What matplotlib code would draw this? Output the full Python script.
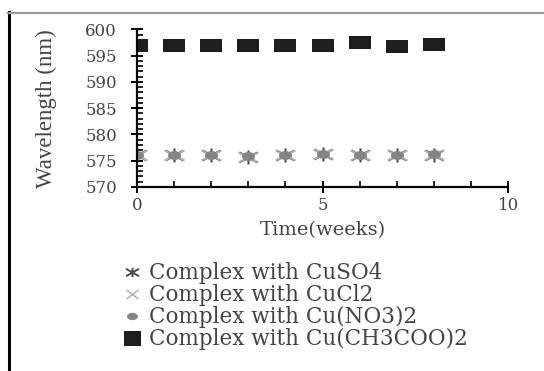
import matplotlib
matplotlib.use("Agg")
import matplotlib.pyplot as plt
from matplotlib.lines import Line2D
from matplotlib.path import Path
from matplotlib.transforms import Affine2D
from matplotlib.ticker import MultipleLocator

weeks = [0, 1, 2, 3, 4, 5, 6, 7, 8]
cuso4 = [576.0, 576.0, 576.0, 575.8, 576.0, 576.3, 576.0, 576.0, 576.1]
cucl2 = [576.0, 576.0, 576.0, 575.8, 576.0, 576.3, 576.0, 576.0, 576.1]
cuno3 = [576.0, 576.0, 576.0, 575.9, 576.0, 576.3, 576.0, 576.0, 576.2]
cuac = [597.0, 597.0, 597.0, 597.0, 597.0, 597.0, 597.5, 596.9, 597.2]
labels = ["Complex with CuSO4", "Complex with CuCl2",
          "Complex with Cu(NO3)2", "Complex with Cu(CH3COO)2"]

plt.rcParams['font.family'] = ['DejaVu Serif', 'DejaVu Sans']


def seg_path(segs):
    verts, codes = [], []
    for (a, b) in segs:
        verts += [a, b]
        codes += [Path.MOVETO, Path.LINETO]
    return Path(verts, codes)


def rect_path(w, h):
    return Path([(-w, -h), (w, -h), (w, h), (-w, h), (-w, -h)],
                [Path.MOVETO, Path.LINETO, Path.LINETO, Path.LINETO, Path.CLOSEPOLY])


def ellipse_path(w, h):
    return Affine2D().scale(w, h).transform_path(Path.unit_circle())


star_m = seg_path([((-9, -5), (9, 5)), ((-9, 5), (9, -5)), ((0, -7), (0, 7))])
x_m = seg_path([((-10, -5), (10, 5)), ((-10, 5), (10, -5))])
ell_m = ellipse_path(6.5, 4.5)
rect_m = rect_path(11, 6.5)

PT = 72 / 100.0

fig = plt.figure(figsize=(5.44, 3.71), dpi=100)
ax = fig.add_axes([0.252, 0.496, 0.682, 0.425])

h1, = ax.plot(weeks, cuso4, ls='none', marker=star_m, ms=18 * PT, mew=1.5,
              mfc='none', mec='#4a4a4a')
h2, = ax.plot(weeks, cucl2, ls='none', marker=x_m, ms=20 * PT, mew=1.4,
              mfc='none', mec='#b0b0b0')
h3, = ax.plot(weeks, cuno3, ls='none', marker=ell_m, ms=13 * PT, mew=0,
              color='#858585')
h4, = ax.plot(weeks, cuac, ls='none', marker=rect_m, ms=22 * PT, mew=0,
              color='#1e1e1e')

ax.set_xlim(0, 10)
ax.set_ylim(570, 600)
ax.xaxis.set_major_locator(MultipleLocator(5))
ax.xaxis.set_minor_locator(MultipleLocator(1))
ax.yaxis.set_major_locator(MultipleLocator(5))
ax.yaxis.set_minor_locator(MultipleLocator(1))
for s in ['top', 'right']:
    ax.spines[s].set_visible(False)
for s in ['left', 'bottom']:
    ax.spines[s].set_linewidth(1.6)
    ax.spines[s].set_color('black')
ax.tick_params(axis='both', which='major', direction='inout', length=9, width=1.4,
               labelsize=12, colors='black', labelcolor='#444444')
ax.tick_params(axis='both', which='minor', direction='in', length=4, width=1.2)
ax.tick_params(axis='y', which='major', pad=10)
ax.tick_params(axis='x', which='major', pad=3)

ax.set_xlabel("Time(weeks)", fontsize=14, color='#444444', labelpad=5)
ax.set_ylabel("Wavelength (nm)", fontsize=16.5, color='#444444', labelpad=20,
              family=['Liberation Serif', 'DejaVu Serif'])

# legend proxies (legend symbols are drawn smaller than plot markers)
p1 = Line2D([], [], ls='none', marker=seg_path([((-7, -4), (7, 4)), ((-7, 4), (7, -4)), ((0, -5), (0, 5))]),
            ms=13 * PT, mew=1.4, mfc='none', mec='#4a4a4a')
p2 = Line2D([], [], ls='none', marker=seg_path([((-6, -4.5), (6, 4.5)), ((-6, 4.5), (6, -4.5))]),
            ms=12 * PT, mew=1.1, mfc='none', mec='#b0b0b0')
p3 = Line2D([], [], ls='none', marker=ellipse_path(6, 4), ms=11 * PT, mew=0, color='#858585')
p4 = Line2D([], [], ls='none', marker=rect_path(8.5, 7.5), ms=17 * PT, mew=0, color='#1e1e1e')

leg = fig.legend([p1, p2, p3, p4], labels, loc='upper left',
                 bbox_to_anchor=(0.225, 0.293), frameon=False, fontsize=15.5,
                 handlelength=0.9, handletextpad=0.35, labelspacing=0.0,
                 borderaxespad=0, borderpad=0, labelcolor='#444444')

# figure frame lines
fig.add_artist(Line2D([8.5 / 544, 8.5 / 544], [0, 1 - 12 / 371], transform=fig.transFigure,
                      color='black', lw=2.2))
fig.add_artist(Line2D([8 / 544, 1], [1 - 13 / 371, 1 - 13 / 371], transform=fig.transFigure,
                      color='#999999', lw=1.6))

fig.savefig("out.png", dpi=100)
